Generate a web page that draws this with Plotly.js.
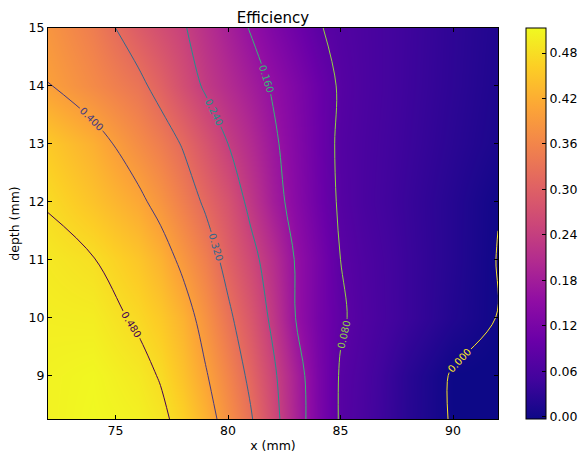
<!DOCTYPE html>
<html>
<head>
<meta charset="utf-8">
<script src="https://cdn.plot.ly/plotly-3.0.1.min.js"></script>
<style>html,body{margin:0;padding:0;background:#fff;}#chart{width:579px;height:456px;}</style>
</head>
<body>
<div id="chart"></div>
<script>
// x positions (mm)
var xVals = [72, 74, 76, 77, 78, 79, 80, 81, 82, 83, 84, 85, 86, 88, 90, 92];
// depth positions (mm)
var depthVals = [8.25, 9, 10, 11, 12, 13, 14, 15];
// efficiency rows, one per depth (bottom to top)
var effD825 = [0.505, 0.512, 0.503, 0.490, 0.465, 0.425, 0.376, 0.326, 0.262, 0.190, 0.125, 0.075, 0.060, 0.024, -0.003, -0.008];
var effD9   = [0.505, 0.510, 0.494, 0.477, 0.446, 0.405, 0.359, 0.308, 0.251, 0.186, 0.123, 0.076, 0.062, 0.025, -0.003, -0.006];
var effD10  = [0.500, 0.498, 0.474, 0.454, 0.425, 0.379, 0.331, 0.283, 0.228, 0.160, 0.116, 0.085, 0.068, 0.042, 0.018, -0.001];
var effD11  = [0.493, 0.482, 0.451, 0.425, 0.388, 0.349, 0.302, 0.258, 0.212, 0.157, 0.118, 0.080, 0.066, 0.042, 0.021, -0.001];
var effD12  = [0.477, 0.447, 0.412, 0.383, 0.349, 0.312, 0.276, 0.227, 0.181, 0.141, 0.106, 0.074, 0.060, 0.040, 0.021, 0.001];
var effD13  = [0.455, 0.422, 0.372, 0.346, 0.316, 0.278, 0.240, 0.205, 0.169, 0.135, 0.103, 0.072, 0.061, 0.043, 0.026, 0.011];
var effD14  = [0.401, 0.368, 0.333, 0.303, 0.268, 0.233, 0.207, 0.181, 0.155, 0.128, 0.101, 0.075, 0.063, 0.045, 0.029, 0.014];
var effD15  = [0.385, 0.347, 0.293, 0.268, 0.245, 0.215, 0.186, 0.157, 0.130, 0.106, 0.083, 0.070, 0.062, 0.046, 0.030, 0.016];
var effRows = [effD825, effD9, effD10, effD11, effD12, effD13, effD14, effD15];
var cbTicks = [0.00, 0.06, 0.12, 0.18, 0.24, 0.30, 0.36, 0.42, 0.48];

var FONT = 'DejaVu Sans, sans-serif';

var plasma = [
  [0.0, '#0d0887'], [0.1, '#41049d'], [0.2, '#6a00a8'], [0.3, '#8f0da4'],
  [0.4, '#b12a90'], [0.5, '#cc4778'], [0.6, '#e16462'], [0.7, '#f2844b'],
  [0.8, '#fca636'], [0.9, '#fcce25'], [1.0, '#f0f921']
];

var heat = {
  type: 'heatmap',
  x: xVals, y: depthVals, z: effRows,
  colorscale: plasma,
  zsmooth: 'best',
  zauto: false, zmin: -0.003, zmax: 0.513,
  hoverinfo: 'skip',
  colorbar: {
    x: 1.062, xanchor: 'left', xpad: 0, xref: 'paper',
    y: 0.5, yanchor: 'middle', ypad: 0,
    len: 1, lenmode: 'fraction',
    thickness: 20, thicknessmode: 'pixels',
    outlinewidth: 1, outlinecolor: '#000',
    tickmode: 'array', tickvals: cbTicks, tickformat: '.2f',
    ticks: 'inside', ticklen: 4, tickcolor: '#000',
    tickfont: {family: FONT, size: 12.5, color: '#000'}
  }
};

var cont = {
  type: 'contour',
  x: xVals, y: depthVals, z: effRows,
  colorscale: 'Viridis', reversescale: true,
  showscale: false,
  hoverinfo: 'skip',
  contours: {
    start: 0, end: 0.48, size: 0.08,
    coloring: 'lines',
    showlabels: true,
    labelformat: '.3f',
    labelfont: {family: FONT, size: 10}
  },
  line: {width: 1, smoothing: 1.0}
};

var axisCommon = {
  showline: true, mirror: 'ticks', linecolor: '#000', linewidth: 1,
  ticks: 'inside', ticklen: 4, tickcolor: '#000', tickwidth: 1,
  showgrid: false, zeroline: false,
  tickfont: {family: FONT, size: 12.5, color: '#000'}
};

var layout = {
  width: 579, height: 456,
  margin: {l: 48, r: 81, t: 28, b: 37, autoexpand: false},
  paper_bgcolor: '#fff', plot_bgcolor: '#fff',
  font: {family: FONT, color: '#000'},
  title: {text: 'Efficiency', font: {family: FONT, size: 15, color: '#000'},
          x: 0.5, xref: 'paper', y: 1, yref: 'paper', yanchor: 'bottom', pad: {b: 5}},
  xaxis: Object.assign({}, axisCommon, {
    range: [72, 92], tick0: 75, dtick: 5,
    title: {text: 'x (mm)', font: {family: FONT, size: 12.5, color: '#000'}, standoff: 4}
  }),
  yaxis: Object.assign({}, axisCommon, {
    range: [8.25, 15], tick0: 9, dtick: 1,
    title: {text: 'depth (mm)', font: {family: FONT, size: 12.5, color: '#000'}, standoff: 6}
  }),
  showlegend: false
};

Plotly.newPlot('chart', [heat, cont], layout, {displayModeBar: false, staticPlot: true});
</script>
</body>
</html>
